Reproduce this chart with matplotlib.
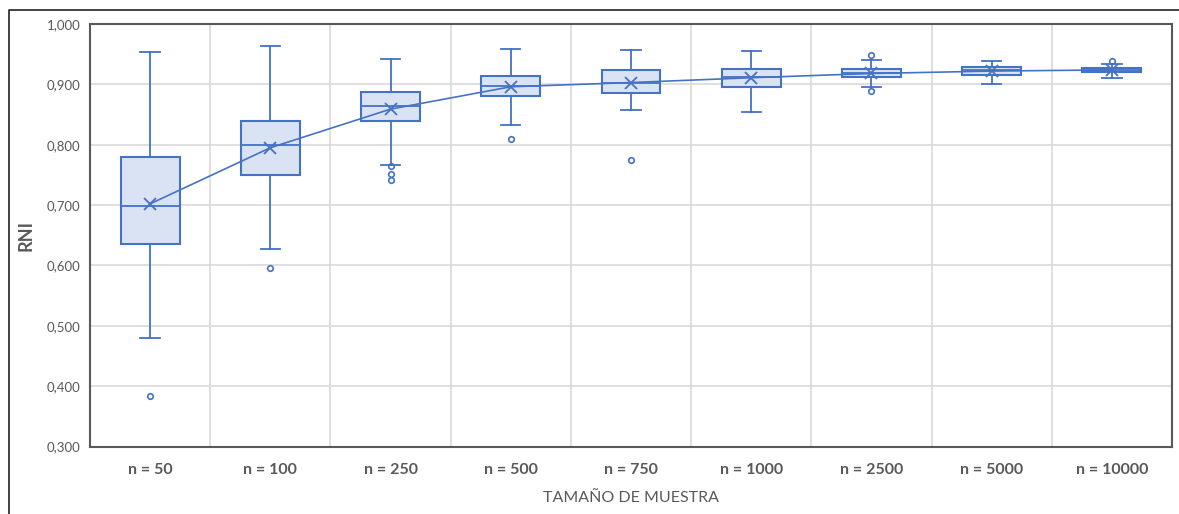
import numpy as np
import matplotlib
matplotlib.use('Agg')
import matplotlib.pyplot as plt
from matplotlib.ticker import FuncFormatter, FixedLocator
from matplotlib.lines import Line2D

# datos
categorias = ['n = 50', 'n = 100', 'n = 250', 'n = 500', 'n = 750',
              'n = 1000', 'n = 2500', 'n = 5000', 'n = 10000']
bigote_inf = [0.480, 0.628, 0.767, 0.832, 0.858, 0.855, 0.895, 0.901, 0.911]
q1 = [0.636, 0.749, 0.839, 0.880, 0.886, 0.896, 0.913, 0.916, 0.920]
mediana = [0.699, 0.800, 0.864, 0.897, 0.903, 0.912, 0.918, 0.923, 0.924]
q3 = [0.779, 0.840, 0.887, 0.914, 0.923, 0.926, 0.925, 0.928, 0.927]
bigote_sup = [0.953, 0.963, 0.942, 0.958, 0.957, 0.956, 0.941, 0.938, 0.934]
media = [0.702, 0.795, 0.859, 0.896, 0.903, 0.911, 0.918, 0.922, 0.924]
atipicos = [[0.383], [0.596], [0.764, 0.752, 0.741], [0.810], [0.774],
            [], [0.949, 0.889], [], [0.938]]

azul = '#4472C4'
relleno = '#DAE3F3'
gris = '#595959'

plt.rcParams['font.family'] = ['Lato', 'DejaVu Sans']

fig = plt.figure(figsize=(11.79, 5.14), dpi=100)
ax = fig.add_axes([90 / 1179, 1 - 446.5 / 514, (1172 - 90) / 1179, (446.5 - 24) / 514])

stats = []
for i in range(len(categorias)):
    stats.append(dict(med=mediana[i], q1=q1[i], q3=q3[i], whislo=bigote_inf[i],
                      whishi=bigote_sup[i], fliers=atipicos[i], mean=media[i]))

pos = np.arange(1, len(categorias) + 1)
ax.bxp(stats, positions=pos, widths=0.49, capwidths=0.16, patch_artist=True,
       showmeans=False,
       boxprops=dict(facecolor=relleno, edgecolor=azul, linewidth=1.5),
       medianprops=dict(color=azul, linewidth=1.3),
       whiskerprops=dict(color=azul, linewidth=1.3),
       capprops=dict(color=azul, linewidth=1.3),
       flierprops=dict(marker='o', markersize=4, markerfacecolor='none',
                       markeredgecolor=azul, markeredgewidth=1.2),
       zorder=3)

ax.plot(pos, media, color=azul, linewidth=1.2, marker='x', markersize=9,
        markeredgewidth=1.3, zorder=4)

ax.set_xlim(0.5, len(categorias) + 0.5)
ax.set_ylim(0.3, 1.0)
ax.set_yticks(np.arange(0.3, 1.001, 0.1))
ax.yaxis.set_major_formatter(FuncFormatter(lambda v, p: ('%.3f' % v).replace('.', ',')))
ax.set_xticks(pos)
ax.set_xticklabels(categorias, fontsize=11.5, fontweight='bold', color=gris)
ax.xaxis.set_minor_locator(FixedLocator(np.arange(1.5, len(categorias), 1.0)))
ax.tick_params(axis='both', which='both', length=0)
ax.tick_params(axis='y', labelsize=9.5, labelcolor=gris, pad=7)
ax.tick_params(axis='x', pad=12)

ax.grid(axis='y', which='major', color='#D9D9D9', linewidth=1.2, zorder=0)
ax.grid(axis='x', which='minor', color='#D9D9D9', linewidth=1.2, zorder=0)
ax.set_axisbelow(True)

for s in ax.spines.values():
    s.set_color(gris)
    s.set_linewidth(1.5)

ax.set_ylabel('RNI', fontsize=13, fontweight='bold', color=gris)
ax.yaxis.set_label_coords(-0.051, 0.5)
ax.set_xlabel('TAMAÑO DE MUESTRA', fontsize=11.5, color=gris, labelpad=10)

# marco exterior (solo arriba e izquierda, la captura esta recortada)
fig.add_artist(Line2D([9.5 / 1179, 9.5 / 1179, 1.0], [0.0, 1 - 9.5 / 514, 1 - 9.5 / 514],
                      color='#222222', linewidth=1.2, transform=fig.transFigure))

fig.savefig('out.png', dpi=100)
